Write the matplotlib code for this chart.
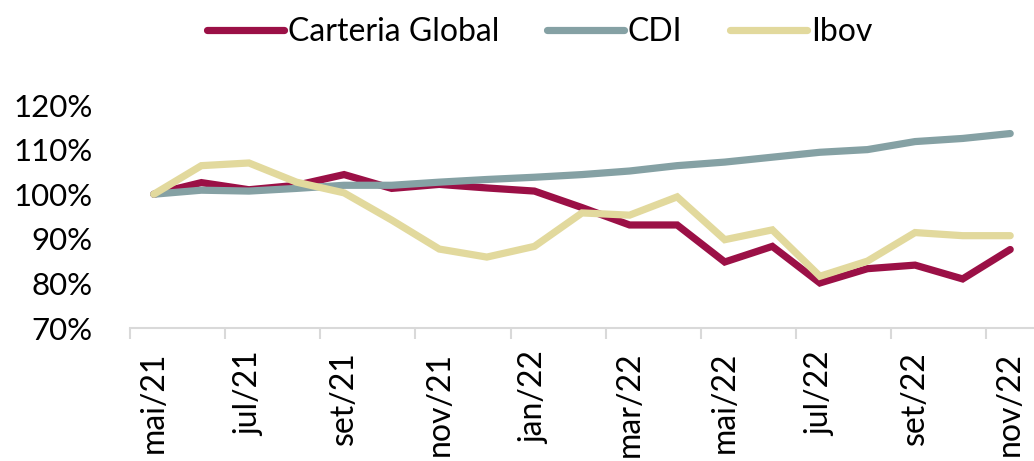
import matplotlib.pyplot as plt
import numpy as np

plt.rcParams['font.family'] = ['Lato', 'DejaVu Sans']

meses = ['mai/21', 'jun/21', 'jul/21', 'ago/21', 'set/21', 'out/21', 'nov/21',
         'dez/21', 'jan/22', 'fev/22', 'mar/22', 'abr/22', 'mai/22', 'jun/22',
         'jul/22', 'ago/22', 'set/22', 'out/22', 'nov/22']
carteira = [100, 102.6, 101.0, 102.0, 104.4, 101.3, 102.2, 101.4, 100.7, 97.0,
            93.1, 93.1, 84.8, 88.3, 80.1, 83.3, 84.1, 81.0, 87.6]
cdi = [100, 100.9, 100.7, 101.3, 102.0, 102.0, 102.7, 103.3, 103.8, 104.4,
       105.2, 106.4, 107.2, 108.3, 109.4, 110.0, 111.8, 112.5, 113.6]
ibov = [100, 106.4, 107.0, 102.7, 100.3, 94.2, 87.7, 85.9, 88.3, 95.8,
        95.3, 99.4, 89.8, 92.0, 81.6, 85.0, 91.4, 90.7, 90.7]

x = np.arange(len(meses))

fig = plt.figure(figsize=(10.34, 4.61), dpi=100)
ax = fig.add_axes([130/1034, 133/461, 904/1034, 223/461])

ax.plot(x, carteira, color='#9B1046', lw=5.2, solid_capstyle='round', solid_joinstyle='miter', label='Carteria Global')
ax.plot(x, cdi, color='#85A1A4', lw=5.2, solid_capstyle='round', solid_joinstyle='miter', label='CDI')
ax.plot(x, ibov, color='#E2D99D', lw=5.2, solid_capstyle='round', solid_joinstyle='miter', label='Ibov')

ax.set_xlim(-0.5, len(meses) - 0.5)
ax.set_ylim(70, 120)
ax.set_yticks(np.arange(70, 121, 10))
ax.set_yticklabels([f'{v}%' for v in range(70, 121, 10)])

ax.set_xticks(x[::2])
ax.set_xticklabels(meses[::2], rotation=90)
ax.set_xticks(np.arange(-0.5, len(meses), 2), minor=True)
ax.tick_params(axis='x', which='major', length=0, pad=17, labelsize=23)
ax.tick_params(axis='x', which='minor', length=8, width=1.5, color='#D9D9D9')
ax.tick_params(axis='y', length=0, pad=27, labelsize=22.5)

for s in ['top', 'right', 'left']:
    ax.spines[s].set_visible(False)
ax.spines['bottom'].set_color('#D9D9D9')
ax.spines['bottom'].set_linewidth(1.5)

fig.legend(loc='upper center', bbox_to_anchor=(0.522, 1.025), ncol=3, frameon=False,
           fontsize=23, handlelength=2.4, handletextpad=0.12, columnspacing=1.5)

fig.savefig('out.png', dpi=100)
